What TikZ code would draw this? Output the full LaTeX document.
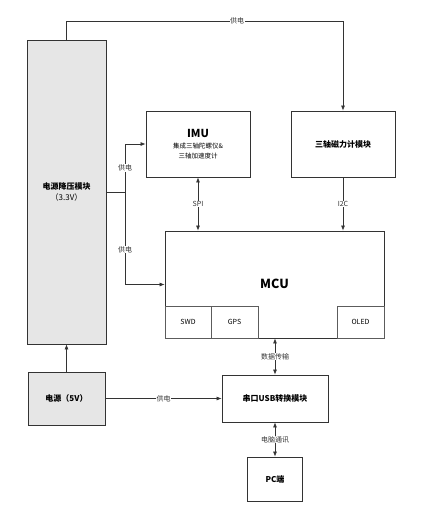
\documentclass[tikz,border=0pt]{standalone}
\usepackage{fontspec}
\setmainfont{Noto Sans CJK SC}
\usetikzlibrary{arrows.meta,calc}
\definecolor{boxgray}{HTML}{E6E6E6}
\definecolor{linegray}{HTML}{333333}
\tikzset{
  box/.style={draw=linegray, line width=0.8pt, inner sep=1pt, align=center, font=\fontsize{8}{10}\selectfont\bfseries},
  subbox/.style={draw=linegray!80, line width=0.6pt, inner sep=0pt, font=\fontsize{7}{8}\selectfont},
  conn/.style={draw=linegray, line width=0.7pt},
  arr/.style={conn, -{Latex[length=5pt,width=4pt]}},
  darr/.style={conn, {Latex[length=5pt,width=4pt]}-{Latex[length=5pt,width=4pt]}},
  lbl/.style={fill=white, inner sep=0.5pt, font=\fontsize{7}{8}\selectfont, text=linegray}
}
\begin{document}
\begin{tikzpicture}[x=1pt,y=-1pt]
\useasboundingbox (0,0) rectangle (438,512);
\node[box, fill=boxgray, minimum width=79pt, minimum height=304pt] (pwr) at (66.5,192) {电源降压模块\\[1pt]\mdseries（3.3V）};
\node[box, minimum width=104pt, minimum height=66pt] (imu) at (198,144) {\fontsize{11}{12}\selectfont IMU\\[1pt]\mdseries\fontsize{6.5}{9}\selectfont 集成三轴陀螺仪\&\\\mdseries\fontsize{6.5}{9}\selectfont 三轴加速度计};
\node[box, minimum width=104pt, minimum height=66pt] (mag) at (343,144) {三轴磁力计模块};
\node[box, minimum width=219pt, minimum height=107pt] (mcu) at (274.5,284.5) {};
\node[font=\fontsize{12.5}{14}\selectfont\bfseries] (mcut) at (274.5,284) {MCU};
\node[subbox, minimum width=46pt, minimum height=32pt] (swd) at (188,322) {SWD};
\node[subbox, minimum width=47pt, minimum height=32pt] (gps) at (234.5,322) {GPS};
\node[subbox, minimum width=47pt, minimum height=32pt] (oled) at (360.5,322) {OLED};
\node[box, fill=boxgray, minimum width=77pt, minimum height=53pt] (v5) at (66.5,398.5) {电源（5V）};
\node[box, minimum width=106pt, minimum height=47pt] (usb) at (275,398.5) {串口USB转换模块};
\node[box, minimum width=55pt, minimum height=44pt] (pc) at (275,479) {PC端};
\coordinate (topl) at (66.5,21);
\coordinate (topr) at (343,21);
\coordinate (br) at (125,192);
\draw[arr] (pwr.north) -- (topl) -- node[lbl, pos=0.617] {供电} (topr) -- (mag.north);
\draw[conn] (pwr.east) -- (br);
\draw[arr] (br) |- node[lbl, pos=0.25] {供电} (imu.west);
\draw[arr] (br) |- node[lbl, pos=0.31] {供电} (mcu.west);
\draw[darr] (imu.south) -- node[lbl] {SPI} (imu.south |- mcu.north);
\draw[arr] (mag.south) -- node[lbl] {I2C} (mag.south |- mcu.north);
\draw[darr] (usb.north |- mcu.south) -- node[lbl] {数据传输} (usb.north);
\draw[darr] (usb.south) -- node[lbl] {电脑通讯} (pc.north);
\draw[arr] (v5.north) -- (pwr.south);
\draw[arr] (v5.east) -- node[lbl] {供电} (usb.west);
\end{tikzpicture}
\end{document}
